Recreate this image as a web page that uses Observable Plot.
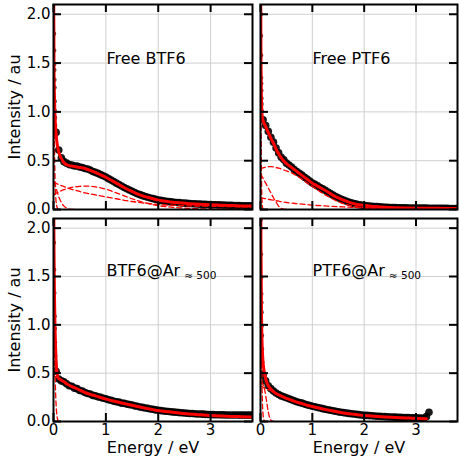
<!DOCTYPE html>
<html><head><meta charset="utf-8">
<script src="https://cdn.jsdelivr.net/npm/d3@7"></script>
<script src="https://cdn.jsdelivr.net/npm/@observablehq/plot@0.6"></script>
<style>
body{margin:0;background:#fff;}
#root{position:relative;width:459px;height:459px;font-family:"DejaVu Sans",sans-serif;}
#root svg{position:absolute;overflow:visible;font-family:"DejaVu Sans",sans-serif;}
#root svg text{font-family:"DejaVu Sans",sans-serif;font-weight:normal;}
</style></head><body><div id="root"></div>
<script>
// ---- tick values ----
const xTicks = [0, 1, 2, 3];
const yTicks = [0, 0.5, 1.0, 1.5, 2.0];

// ---- measured data: shared energy grid (eV) ----
const energy = [0.05,0.1,0.15,0.2,0.25,0.3,0.35,0.4,0.45,0.5,0.55,0.6,0.65,0.7,0.75,0.8,0.85,0.9,0.95,1.0,
1.05,1.1,1.15,1.2,1.25,1.3,1.35,1.4,1.45,1.5,1.55,1.6,1.65,1.7,1.75,1.8,1.85,1.9,1.95,2.0,
2.05,2.1,2.15,2.2,2.25,2.3,2.35,2.4,2.45,2.5,2.55,2.6,2.65,2.7,2.75,2.8,2.85,2.9,2.95,3.0,
3.05,3.1,3.15,3.2,3.25,3.3,3.35,3.4,3.45,3.5,3.55,3.6,3.65,3.7,3.75,3.8];

const freeBTF6 = [0.79,0.61,0.53,0.49,0.475,0.46,0.455,0.445,0.445,0.435,
0.43,0.42,0.415,0.405,0.39,0.38,0.37,0.357,0.345,0.332,
0.316,0.301,0.286,0.27,0.256,0.241,0.226,0.212,0.199,0.186,
0.174,0.162,0.152,0.142,0.133,0.125,0.118,0.111,0.104,0.098,
0.093,0.088,0.084,0.081,0.078,0.075,0.072,0.07,0.067,0.065,
0.063,0.061,0.059,0.058,0.056,0.055,0.053,0.052,0.051,0.05,
0.049,0.048,0.047,0.046,0.045,0.044,0.043,0.042,0.041,0.04,
0.04,0.039,0.038,0.038,0.037,0.037];
const freePTF6 = [0.92,0.86,0.8,0.74,0.69,0.63,0.58,0.535,0.51,0.475,
0.455,0.435,0.41,0.39,0.372,0.352,0.33,0.312,0.292,0.272,
0.257,0.242,0.226,0.211,0.196,0.18,0.163,0.147,0.133,0.12,
0.108,0.096,0.086,0.076,0.068,0.061,0.055,0.049,0.045,0.041,
0.038,0.035,0.033,0.031,0.029,0.027,0.025,0.023,0.022,0.021,
0.02,0.019,0.018,0.018,0.017,0.017,0.016,0.016,0.015,0.015,
0.015,0.014,0.014,0.014,0.013,0.013,0.013,0.013,0.012,0.012,
0.012,0.012,0.011,0.011,0.011,0.011];
const btf6Ar = [0.52,0.44,0.42,0.41,0.39,0.37,0.365,0.345,0.34,0.32,
0.315,0.3,0.29,0.285,0.27,0.265,0.255,0.25,0.24,0.235,
0.225,0.22,0.21,0.205,0.2,0.19,0.188,0.18,0.175,0.17,
0.162,0.158,0.15,0.146,0.14,0.136,0.13,0.126,0.12,0.116,
0.113,0.108,0.106,0.103,0.1,0.097,0.095,0.092,0.09,0.088,
0.085,0.083,0.082,0.08,0.078,0.077,0.076,0.074,0.073,0.072,
0.071,0.07,0.07,0.069,0.069,0.068,0.068,0.067,0.067,0.067,
0.066,0.066,0.066,0.066,0.066,0.066];
const ptf6Ar = [0.48,0.42,0.37,0.34,0.315,0.295,0.28,0.265,0.255,0.245,
0.235,0.225,0.215,0.205,0.197,0.19,0.18,0.172,0.165,0.158,
0.152,0.145,0.139,0.133,0.127,0.122,0.116,0.111,0.106,0.1,
0.096,0.092,0.088,0.084,0.08,0.077,0.074,0.071,0.068,0.065,
0.063,0.061,0.059,0.057,0.055,0.054,0.052,0.05,0.049,0.047,
0.046,0.045,0.044,0.043,0.042,0.041,0.04,0.039,0.038,0.037,
0.036,0.035,0.034,0.05,0.096];

// ---- measured points of the near-zero spike ----
const freeBTF6SpikeE = [0.01,0.012,0.014,0.016,0.018,0.02,0.022,0.025,0.028,0.032,0.036,0.04];
const freeBTF6SpikeI = [1.80,1.63,1.49,1.43,1.33,1.25,1.11,1.01,0.94,0.86,0.8,0.74];
const freePTF6SpikeE = [0.005,0.008,0.01,0.012,0.014,0.016,0.018,0.02,0.025];
const freePTF6SpikeI = [2.0,1.78,1.58,1.35,1.29,1.22,1.14,1.08,1.01];
const btf6ArSpikeE = [0.008,0.012,0.016,0.02,0.024,0.028,0.032,0.036,0.04];
const btf6ArSpikeI = [1.85,1.57,1.33,1.09,0.96,0.82,0.68,0.6,0.54];
const ptf6ArSpikeE = [0.004,0.008,0.012,0.015,0.018,0.021,0.024,0.027,0.03,0.035,0.04];
const ptf6ArSpikeI = [2.09,1.73,1.49,1.32,1.23,1.13,0.99,0.89,0.75,0.61,0.51];

// ---- fit & component grid (eV) ----
const fitGrid = [0,0.01,0.02,0.03,0.04,0.05,0.06,0.08,0.1,0.12,0.15,0.2,0.25,0.3,0.35,0.4,0.5,0.6,0.7,0.8,0.9,
1.0,1.1,1.2,1.3,1.4,1.5,1.6,1.7,1.8,1.9,2.0,2.2,2.4,2.6,2.8,3.0,3.2,3.4,3.6,3.8];

// fits (total)
const freeBTF6Fit = [2.6,1.45,1.12,0.95,0.84,0.77,0.71,0.64,0.59,0.555,0.52,0.48,0.46,0.45,0.445,0.44,0.43,0.42,0.40,0.38,0.355,
0.33,0.30,0.27,0.24,0.21,0.185,0.16,0.14,0.125,0.11,0.095,0.08,0.068,0.06,0.053,0.048,0.044,0.04,0.037,0.035];
const freePTF6Fit = [2.6,1.5,1.1,0.97,0.93,0.91,0.895,0.87,0.85,0.825,0.79,0.73,0.68,0.62,0.57,0.53,0.47,0.43,0.39,0.35,0.31,
0.27,0.24,0.21,0.18,0.145,0.12,0.095,0.075,0.06,0.048,0.04,0.03,0.022,0.018,0.016,0.014,0.013,0.012,0.011,0.01];
const btf6ArFit = [2.7,1.75,1.26,0.95,0.76,0.62,0.54,0.465,0.445,0.437,0.426,0.41,0.39,0.375,0.36,0.35,0.325,0.30,0.28,0.265,0.248,
0.232,0.218,0.205,0.192,0.18,0.168,0.155,0.144,0.133,0.123,0.113,0.10,0.088,0.077,0.069,0.062,0.057,0.053,0.05,0.047];
const ptf6ArFit = [2.8,1.75,1.1,0.82,0.69,0.61,0.56,0.49,0.44,0.405,0.37,0.335,0.31,0.29,0.275,0.262,0.24,0.22,0.20,0.185,0.168,
0.155,0.142,0.13,0.119,0.108,0.098,0.089,0.081,0.074,0.068,0.062,0.054,0.047,0.042,0.037,0.032,0.028];

// components
const freeBTF6Spike = [2.5,1.2,0.6,0.3,0.15,0.08,0.04,0.01,0];
const freeBTF6Fast = [0.28,0.27,0.26,0.25,0.235,0.22,0.2,0.165,0.13,0.105,0.07,0.035,0.015,0.005,0.001,0];
const freeBTF6Slow = [0.28,0.278,0.275,0.273,0.27,0.268,0.265,0.26,0.255,0.25,0.245,0.235,0.225,0.215,0.207,0.2,0.185,0.17,0.16,0.15,0.14,
0.13,0.12,0.11,0.10,0.09,0.082,0.075,0.068,0.062,0.057,0.052,0.045,0.04,0.037,0.035,0.033,0.031,0.029,0.028,0.027];
const freeBTF6Broad = [0.15,0.153,0.156,0.16,0.163,0.166,0.17,0.175,0.18,0.186,0.193,0.203,0.212,0.22,0.226,0.231,0.237,0.24,0.238,0.232,0.222,
0.208,0.19,0.17,0.15,0.13,0.11,0.092,0.076,0.062,0.05,0.04,0.026,0.017,0.011,0.007,0.005,0.003,0.002,0.001,0.001];

const freePTF6Spike = [2.5,1.0,0.3,0.08,0.02,0];
const freePTF6Fast = [0.36,0.352,0.344,0.336,0.328,0.32,0.31,0.29,0.27,0.25,0.22,0.17,0.12,0.075,0.035,0.012,0];
const freePTF6Broad = [0.42,0.421,0.423,0.424,0.425,0.427,0.428,0.431,0.434,0.436,0.438,0.44,0.437,0.43,0.423,0.415,0.395,0.375,0.345,0.31,0.272,
0.235,0.2,0.165,0.135,0.105,0.08,0.06,0.045,0.033,0.024,0.017,0.009,0.004,0.002,0.001,0.0005,0,0,0,0];
const freePTF6Slow = [0.12,0.119,0.118,0.117,0.116,0.115,0.114,0.112,0.11,0.108,0.105,0.10,0.095,0.09,0.085,0.08,0.072,0.065,0.06,0.055,0.05,
0.045,0.041,0.038,0.035,0.032,0.029,0.026,0.024,0.021,0.019,0.017,0.014,0.012,0.01,0.009,0.008,0.007,0.006,0.006,0.005];

const btf6ArSpike = [2.2,1.3,0.8,0.5,0.3,0.17,0.09,0.02,0];
const btf6ArBroad = [0.48,0.475,0.47,0.466,0.462,0.458,0.455,0.45,0.445,0.437,0.426,0.41,0.39,0.375,0.36,0.35,0.325,0.30,0.28,0.265,0.248,
0.232,0.218,0.205,0.192,0.18,0.168,0.155,0.144,0.133,0.123,0.113,0.10,0.088,0.077,0.069,0.062,0.057,0.053,0.05,0.047];

const ptf6ArSpike = [2.5,1.4,0.7,0.35,0.15,0.07,0.03,0.005,0];
const ptf6ArFast = [0.41,0.408,0.405,0.40,0.39,0.38,0.37,0.33,0.27,0.2,0.1,0.012,0];
const ptf6ArBroad = [0.37,0.367,0.364,0.361,0.358,0.355,0.352,0.347,0.342,0.337,0.33,0.32,0.305,0.29,0.275,0.262,0.24,0.22,0.20,0.185,0.168,
0.155,0.142,0.13,0.119,0.108,0.098,0.089,0.081,0.074,0.068,0.062,0.054,0.047,0.042,0.037,0.032,0.028];

// ---- panel titles ----
const titles = ["Free BTF6", "Free PTF6", "BTF6@Ar", "PTF6@Ar"];
const subscript = "≈ 500";
const xLabel = "Energy / eV";
const yLabel = "Intensity / au";

const zip = (xs, ys) => ys.slice(0, xs.length).map((v, i) => ({e: xs[i], v}));

const RED = "#ff0000";
const GRID = "#cfcfcf";
const FONT = "DejaVu Sans";

function panel(p) {
  const innerW = p.width - p.ml - p.mr;
  const innerH = p.height - p.mt - p.mb;
  const band = zip(energy, p.data);
  const spike = zip(p.spikeE, p.spikeI);
  const marks = [
    Plot.gridX(xTicks.slice(1), {stroke: GRID, strokeOpacity: 1, strokeWidth: 1}),
    Plot.gridY(yTicks.slice(1), {stroke: GRID, strokeOpacity: 1, strokeWidth: 1}),
    Plot.dot(band, {x: "e", y: "v", r: 3.8, fill: "#000", fillOpacity: 0.9, stroke: "none", clip: true}),
    Plot.dot(spike, {x: "e", y: "v", r: 2.2, fill: "#222", fillOpacity: 0.85, stroke: "none", clip: true}),
    ...p.comps.map(c => Plot.line(zip(fitGrid, c), {x: "e", y: "v", stroke: RED, strokeWidth: 1.3,
      strokeDasharray: "5,3", curve: "monotone-x", clip: true})),
    Plot.line(zip(fitGrid, p.fit), {x: "e", y: "v", stroke: RED, strokeWidth: 3, curve: "monotone-x", clip: true}),
    Plot.frame({stroke: "black", strokeWidth: 2}),
    Plot.tickX(xTicks, {stroke: "black", strokeWidth: 2, insetTop: innerH - 8}),
    Plot.tickX(xTicks, {stroke: "black", strokeWidth: 2, insetBottom: innerH - 8}),
    Plot.tickY(yTicks, {stroke: "black", strokeWidth: 2, insetRight: innerW - 8}),
    Plot.tickY(yTicks, {stroke: "black", strokeWidth: 2, insetLeft: innerW - 8}),
    Plot.text([p.title], {text: d => d, frameAnchor: "top-left", dx: p.tdx, dy: p.tdy,
      textAnchor: "start", lineAnchor: "bottom", fontSize: 16, fontFamily: FONT, fill: "black"})
  ];
  if (p.showX) {
    marks.push(Plot.axisX(xTicks, {anchor: "bottom", tickSize: 0, tickPadding: 3, label: null,
      fontSize: 15, fontFamily: FONT, fill: "black"}));
    marks.push(Plot.text([xLabel], {text: d => d, frameAnchor: "bottom", dy: 20, lineAnchor: "top",
      textAnchor: "middle", fontSize: 16, fontFamily: FONT, fill: "black"}));
  }
  if (p.showY) {
    marks.push(Plot.axisY(yTicks, {anchor: "left", tickSize: 0, tickPadding: 3, label: null,
      fontSize: 15, fontFamily: FONT, fill: "black", tickFormat: d3.format(".1f")}));
    marks.push(Plot.text([yLabel], {text: d => d, frameAnchor: "left", dx: -39, rotate: -90,
      textAnchor: "middle", lineAnchor: "middle", fontSize: 16, fontFamily: FONT, fill: "black"}));
  }
  const svg = Plot.plot({
    width: p.width, height: p.height,
    marginLeft: p.ml, marginRight: p.mr, marginTop: p.mt, marginBottom: p.mb,
    style: {fontFamily: FONT, fontSize: "15px", background: "transparent", overflow: "visible"},
    x: {domain: [0, 3.8], axis: null},
    y: {domain: [0, 2.1], axis: null},
    marks
  });
  svg.style.left = p.left + "px";
  svg.style.top = p.top + "px";
  if (p.sub) {
    d3.select(svg).selectAll("text").filter(function() { return this.textContent === p.title; })
      .append("tspan").attr("dx", 4).attr("dy", 3).attr("font-size", 10.5).text(p.sub);
  }
  document.getElementById("root").appendChild(svg);
}

panel({title: titles[0], data: freeBTF6, spikeE: freeBTF6SpikeE, spikeI: freeBTF6SpikeI, fit: freeBTF6Fit,
  comps: [freeBTF6Spike, freeBTF6Fast, freeBTF6Slow, freeBTF6Broad],
  left: 0, top: 0, width: 255, height: 213, ml: 53, mr: 3, mt: 4, mb: 4, tdx: 53, tdy: 59, showX: false, showY: true});
panel({title: titles[1], data: freePTF6, spikeE: freePTF6SpikeE, spikeI: freePTF6SpikeI, fit: freePTF6Fit,
  comps: [freePTF6Spike, freePTF6Fast, freePTF6Broad, freePTF6Slow],
  left: 255, top: 0, width: 204, height: 213, ml: 5, mr: 2, mt: 4, mb: 4, tdx: 52, tdy: 59, showX: false, showY: false});
panel({title: titles[2], sub: subscript, data: btf6Ar, spikeE: btf6ArSpikeE, spikeI: btf6ArSpikeI, fit: btf6ArFit,
  comps: [btf6ArSpike, btf6ArBroad],
  left: 0, top: 213, width: 255, height: 246, ml: 53, mr: 3, mt: 5, mb: 38, tdx: 53, tdy: 57, showX: true, showY: true});
panel({title: titles[3], sub: subscript, data: ptf6Ar, spikeE: ptf6ArSpikeE, spikeI: ptf6ArSpikeI, fit: ptf6ArFit,
  comps: [ptf6ArSpike, ptf6ArFast, ptf6ArBroad],
  left: 255, top: 213, width: 204, height: 246, ml: 5, mr: 2, mt: 5, mb: 38, tdx: 52, tdy: 57, showX: true, showY: false});
</script>
</body></html>
